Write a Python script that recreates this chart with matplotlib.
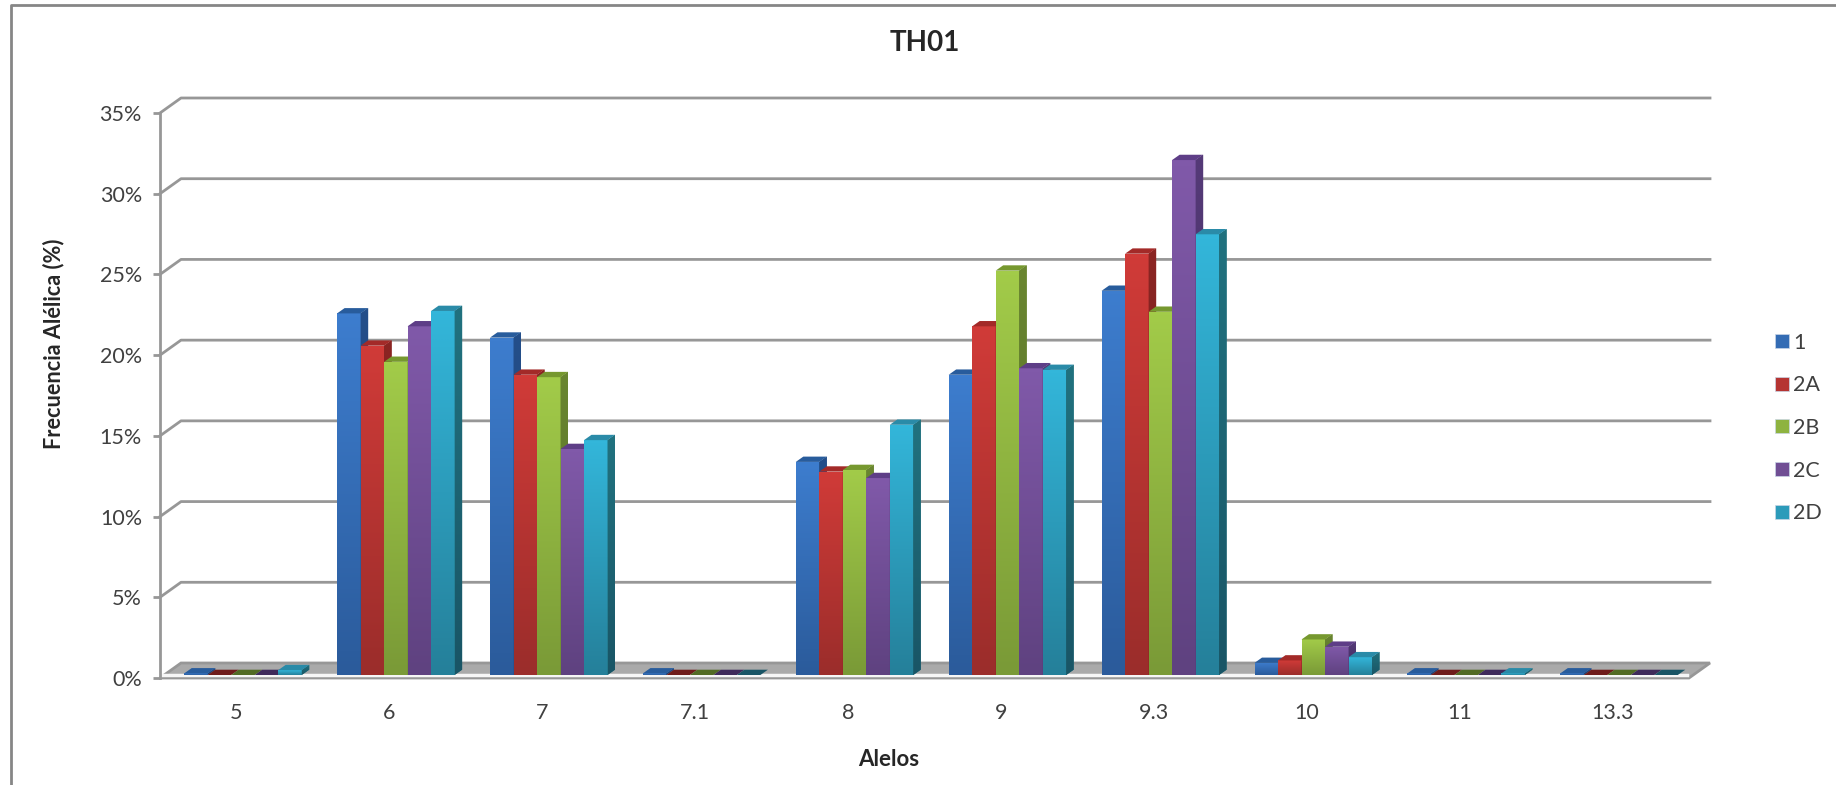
import numpy as np
import matplotlib
matplotlib.use("Agg")
import matplotlib.pyplot as plt
from matplotlib.colors import LinearSegmentedColormap, to_rgb
from matplotlib.lines import Line2D
from matplotlib.patches import Patch, Polygon

plt.rcParams['font.family'] = ['Lato', 'DejaVu Sans']

alelos = ['5', '6', '7', '7.1', '8', '9', '9.3', '10', '11', '13.3']
series = ['1', '2A', '2B', '2C', '2D']

s1 = [0.1, 22.4, 20.9, 0.1, 13.2, 18.6, 23.8, 0.75, 0.1, 0.1]
s2a = [0, 20.4, 18.6, 0, 12.6, 21.6, 26.1, 0.9, 0, 0]
s2b = [0, 19.4, 18.45, 0, 12.7, 25.05, 22.5, 2.2, 0, 0]
s2c = [0, 21.6, 14.0, 0, 12.2, 19.0, 31.9, 1.75, 0, 0]
s2d = [0.3, 22.55, 14.55, 0, 15.5, 18.9, 27.3, 1.1, 0.1, 0]
valores = [s1, s2a, s2b, s2c, s2d]

# (arriba, abajo) del degradado
frente = [('#3d7dce', '#2b5b9b'), ('#d03b38', '#9b2d2b'), ('#a2cb49', '#7a9a37'),
          ('#8059a9', '#5f4280'), ('#33b6da', '#25809a')]
lado = [('#244f8a', '#1c3f6e'), ('#8b2523', '#6f1c1b'), ('#6a8631', '#526b25'),
        ('#553a78', '#3f2b5b'), ('#21727f', '#195566')]
tapa = ['#285c9c', '#a32a28', '#76982f', '#5e3e87', '#2a8ba8']
gris = '#979797'
texto = '#404040'

W, H = 1836, 785
fig = plt.figure(figsize=(W / 100, H / 100), dpi=100)
ax = fig.add_axes([160 / W, (H - 678) / H, 1529 / W, 565 / H])
ax.set_xlim(-0.5, 9.5)
ax.set_ylim(0, 35)

# pixeles a unidades de datos
px = 10 / 1529
py = 35 / 565
pared_x, pared_y = 21 * px, 15 * py
prof_x, prof_y = 7.5 * px, 5.3 * py
base_x, base_y = 6.5 * px, 3 * py
ancho = 23.5 * px


def degradado(artista, c1, c2, x0, x1, y0, y1):
    cmap = LinearSegmentedColormap.from_list('g', [c1, c2])
    im = ax.imshow(np.linspace(0, 1, 64).reshape(-1, 1), cmap=cmap, aspect='auto',
                   extent=(x0, x1, y0, y1), origin='upper', zorder=2,
                   interpolation='bilinear')
    im.set_clip_path(artista)


# pared y suelo
yt = np.arange(0, 40, 5)
x_izq, x_der = -0.5, 9.5
for y in yt[1:]:
    ax.plot([x_izq, x_izq + pared_x, x_der + pared_x], [y, y + pared_y, y + pared_y],
            color=gris, lw=2, clip_on=False, zorder=1)
suelo = [(x_izq, 0), (x_izq + pared_x, pared_y), (x_der + pared_x, pared_y), (x_der, 0)]
ax.add_patch(Polygon(suelo, closed=True, facecolor='#aaaaaa', edgecolor=gris, lw=2,
                     clip_on=False, zorder=1))
ax.plot([x_izq + 0.01, x_der - 0.01], [0.17, 0.17], color='#f6f6f6', lw=2.5,
        clip_on=False, zorder=1)

# barras
pos = np.arange(len(alelos))
for s, vals in enumerate(valores):
    xs = pos + base_x + (s - 2) * ancho
    barras = ax.bar(xs, vals, ancho, bottom=base_y, color=frente[s][1], lw=0,
                    zorder=2, clip_on=False)
    for b, v in zip(barras, vals):
        x0, x1 = b.get_x(), b.get_x() + ancho
        y0, y1 = base_y, base_y + v
        if v > 0:
            degradado(b, frente[s][0], frente[s][1], x0, x1, y0, y1)
            pts = [(x1, y0), (x1 + prof_x, y0 + prof_y), (x1 + prof_x, y1 + prof_y), (x1, y1)]
            p = Polygon(pts, closed=True, facecolor=lado[s][0], lw=0, zorder=2, clip_on=False)
            ax.add_patch(p)
            degradado(p, lado[s][0], lado[s][1], x1, x1 + prof_x, y0, y1 + prof_y)
        color_tapa = tapa[s] if v > 0 else lado[s][1]
        ax.add_patch(Polygon([(x0, y1), (x1, y1), (x1 + prof_x, y1 + prof_y), (x0 + prof_x, y1 + prof_y)],
                             closed=True, facecolor=color_tapa, lw=0, zorder=2, clip_on=False))

ax.set_xlim(-0.5, 9.5)
ax.set_ylim(0, 35)

# ejes
for lado_sp in ['top', 'right', 'bottom']:
    ax.spines[lado_sp].set_visible(False)
ax.spines['left'].set_color(gris)
ax.spines['left'].set_linewidth(2)
ax.patch.set_alpha(0)
ax.set_yticks(yt)
ax.set_yticklabels(['%d%%' % y for y in yt])
ax.tick_params(axis='y', length=5, width=2, color=gris, labelcolor=texto, labelsize=15.5, pad=8)
ax.set_xticks(pos)
ax.set_xticklabels(alelos)
ax.tick_params(axis='x', length=0, labelcolor=texto, labelsize=15.5, pad=18)

fig.text(925 / W, 1 - 43 / H, 'TH01', fontsize=20, fontweight='bold', color='#262626',
         ha='center', va='center')
fig.text(889 / W, 1 - 759 / H, 'Alelos', fontsize=16, fontweight='bold', color='#262626',
         ha='center', va='center')
fig.text(54 / W, 1 - 344 / H, 'Frecuencia Alélica (%)', fontsize=15.6, fontweight='bold',
         color='#262626', rotation=90, ha='center', va='center')

# leyenda
handles = [Patch(facecolor=tuple((np.array(to_rgb(f[0])) + np.array(to_rgb(f[1]))) / 2),
                 edgecolor='#c9d6e6', lw=0.5) for f in frente]
leg = fig.legend(handles, series, loc='center left', bbox_to_anchor=(1756 / W, 1 - 428 / H),
                 frameon=False, fontsize=15.5, handlelength=0.62, handleheight=0.62,
                 handletextpad=0.2, labelspacing=1.05, labelcolor=texto)

# marco exterior
fig.add_artist(Line2D([10.5 / W, 10.5 / W, 1], [0, 1 - 5 / H, 1 - 5 / H], color='#868686', lw=2))

fig.savefig('out.png', dpi=100)
